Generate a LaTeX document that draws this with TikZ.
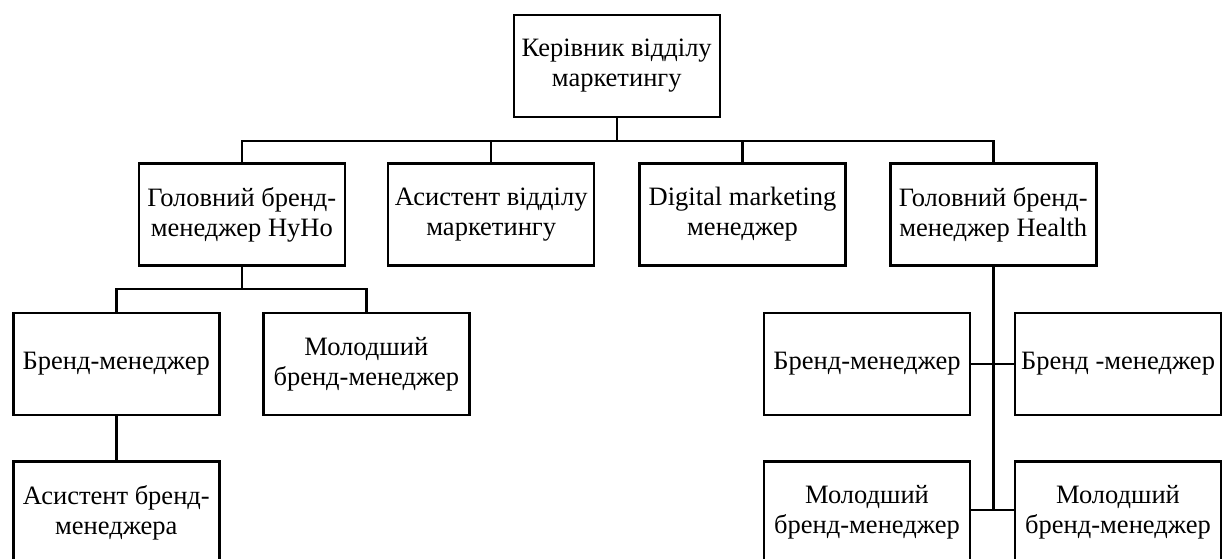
\documentclass[tikz,border=0pt]{standalone}
\usepackage{fontspec}
\setmainfont{Liberation Serif}
\begin{document}
\begin{tikzpicture}[x=1pt,y=-1pt,
  box/.style={draw, line width=2.4pt, minimum width=206pt, minimum height=102pt,
    inner sep=0pt, align=center, font=\fontsize{26.5}{30}\selectfont},
  conn/.style={line width=2.4pt}]
\useasboundingbox (0,0) rectangle (1227,558);
\clip (0,0) rectangle (1227,558);
\fill[white] (0,0) rectangle (1227,558);

\node[box] (head) at (616.7,65.8) {Керівник відділу\\маркетингу};
\node[box] (hyho) at (241.8,214.5) {Головний бренд-\\менеджер HyHo};
\node[box] (asist) at (491.2,214.5) {Асистент відділу\\маркетингу};
\node[box] (digital) at (742.5,214.5) {Digital marketing\\менеджер};
\node[box] (health) at (993.3,214.5) {Головний бренд-\\менеджер Health};
\node[box] (bm1) at (116.3,363.8) {Бренд-менеджер};
\node[box] (mbm1) at (366.3,363.8) {Молодший\\бренд-менеджер};
\node[box] (abm) at (116.3,512.5) {Асистент бренд-\\менеджера};
\node[box] (bm2) at (867,363.8) {Бренд-менеджер};
\node[box] (bm3) at (1118,363.8) {Бренд -менеджер};
\node[box] (mbm2) at (867,512.5) {Молодший\\бренд-менеджер};
\node[box] (mbm3) at (1118,512.5) {Молодший\\бренд-менеджер};

\coordinate (bus) at (616.7,140.7);
\draw[conn] (head.south) -- (bus);
\draw[conn] (hyho.north) |- (bus) -| (health.north);
\draw[conn] (asist.north) -- (asist.north |- bus);
\draw[conn] (digital.north) -- (digital.north |- bus);

\coordinate (hbus) at (241.8,289);
\draw[conn] (hyho.south) -- (hbus);
\draw[conn] (bm1.north) |- (hbus) -| (mbm1.north);
\draw[conn] (bm1.south) -- (abm.north);

\coordinate (hend) at (993.3,510);
\draw[conn] (health.south) -- (hend);
\draw[conn] (bm2.east) -- (bm3.west);
\draw[conn] (mbm2.east |- hend) -- (mbm3.west |- hend);
\end{tikzpicture}
\end{document}
